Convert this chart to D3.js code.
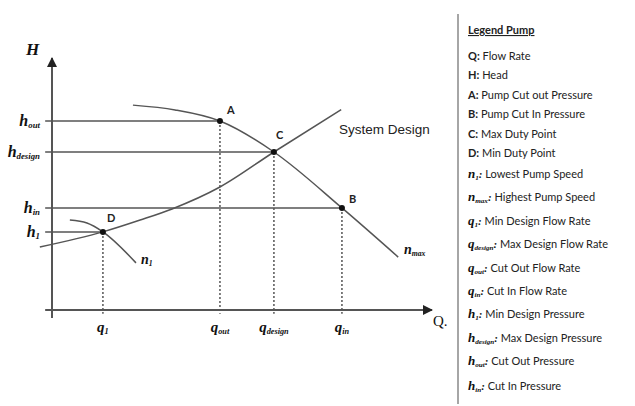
<!DOCTYPE html>
<html>
<head>
<meta charset="utf-8">
<script src="https://cdn.jsdelivr.net/npm/d3@7"></script>
<style>
  body { margin: 0; background: #fff; }
  svg { display: block; }
</style>
</head>
<body>
<svg width="635" height="406"></svg>
<script>
// Operating points on the curves (flow Q, head H).
var pointNames = ["A", "B", "C", "D"];
var pointQ = [44.2, 76.3, 58.4, 13.4];
var pointH = [75.0, 40.5, 62.7, 31.0];

// Pump curve at highest speed.
var nmaxQ = [21.3, 32.4, 44.2, 58.4, 76.3, 91.1];
var nmaxH = [81.3, 79.4, 75.0, 62.7, 40.5, 21.0];

// Pump curve at lowest speed.
var n1Q = [4.7, 9.2, 13.4, 22.1];
var n1H = [35.7, 34.5, 31.0, 18.7];

// System design curve.
var systemQ = [-3.2, 13.4, 23.2, 31.6, 44.2, 58.4, 76.1];
var systemH = [25.0, 31.0, 35.7, 40.1, 48.8, 62.7, 79.5];

// Tick labels.
var hTicks = [75.0, 62.7, 40.5, 31.0];
var hSubs = ["out", "design", "in", "1"];
var qTicks = [13.4, 44.2, 58.4, 76.3];
var qSubs = ["1", "out", "design", "in"];

// Legend rows: key symbol, subscript, description.
var legendKeys = ["Q", "H", "A", "B", "C", "D", "n", "n", "q", "q", "q", "q", "h", "h", "h", "h"];
var legendSubs = ["", "", "", "", "", "", "1", "max", "1", "design", "out", "in", "1", "design", "out", "in"];
var legendText = ["Flow Rate", "Head", "Pump Cut out Pressure", "Pump Cut In Pressure", "Max Duty Point",
	"Min Duty Point", "Lowest Pump Speed", "Highest Pump Speed", "Min Design Flow Rate",
	"Max Design Flow Rate", "Cut Out Flow Rate", "Cut In Flow Rate", "Min Design Pressure",
	"Max Design Pressure", "Cut Out Pressure", "Cut In Pressure"];

var svg = d3.select("svg");
var lineColor = "#555";
var scriptFont = "Liberation Serif";

var x = d3.scaleLinear().domain([0, 100]).range([52, 432]);
var y = d3.scaleLinear().domain([0, 100]).range([310, 58]);

// Arrow marker for the axes.
svg.append("defs").append("marker")
	.attr("id", "arrow")
	.attr("viewBox", "0 0 10 10")
	.attr("refX", 9).attr("refY", 5)
	.attr("markerWidth", 5).attr("markerHeight", 5)
	.attr("markerUnits", "strokeWidth")
	.attr("orient", "auto")
	.append("path")
	.attr("d", "M0,0L10,5L0,10Z")
	.attr("fill", "#222");

// Axes.
svg.append("line")
	.attr("x1", x(0)).attr("y1", y(-3.2))
	.attr("x2", x(0)).attr("y2", y(100))
	.attr("stroke", lineColor).attr("stroke-width", 2)
	.attr("marker-end", "url(#arrow)");
svg.append("line")
	.attr("x1", x(-1.8)).attr("y1", y(0))
	.attr("x2", x(100)).attr("y2", y(0))
	.attr("stroke", lineColor).attr("stroke-width", 2)
	.attr("marker-end", "url(#arrow)");

// Guide lines from the points to the axes.
var guides = svg.append("g");
pointNames.forEach(function(name, i) {
	guides.append("line")
		.attr("x1", x(-1.8)).attr("y1", y(pointH[i]))
		.attr("x2", x(pointQ[i])).attr("y2", y(pointH[i]))
		.attr("stroke", lineColor).attr("stroke-width", 1.5);
	guides.append("line")
		.attr("x1", x(pointQ[i])).attr("y1", y(pointH[i]))
		.attr("x2", x(pointQ[i])).attr("y2", y(-1.5))
		.attr("stroke", lineColor).attr("stroke-width", 1.5)
		.attr("stroke-dasharray", "2,2");
});

// Curves.
var curve = d3.line()
	.x(function(d) { return x(d[0]); })
	.y(function(d) { return y(d[1]); })
	.curve(d3.curveMonotoneX);

[[nmaxQ, nmaxH], [n1Q, n1H], [systemQ, systemH]].forEach(function(c) {
	svg.append("path")
		.datum(d3.zip(c[0], c[1]))
		.attr("d", curve)
		.attr("fill", "none")
		.attr("stroke", lineColor)
		.attr("stroke-width", 1.5);
});

// Points and their letters.
var labelDx = [7, 7, 2, 4];
var labelDy = [-7, -5, -13, -10];
svg.append("g").selectAll("circle")
	.data(pointNames)
	.enter()
	.append("circle")
	.attr("cx", function(d, i) { return x(pointQ[i]); })
	.attr("cy", function(d, i) { return y(pointH[i]); })
	.attr("r", 3)
	.attr("fill", "#111");
svg.append("g").selectAll("text")
	.data(pointNames)
	.enter()
	.append("text")
	.attr("x", function(d, i) { return x(pointQ[i]) + labelDx[i]; })
	.attr("y", function(d, i) { return y(pointH[i]) + labelDy[i]; })
	.attr("font-family", "Lato")
	.attr("font-weight", "bold")
	.attr("font-size", 11)
	.attr("fill", "#222")
	.text(function(d) { return d; });

// Script label with subscript.
function scriptLabel(g, px, py, base, sub, anchor, size) {
	var t = g.append("text")
		.attr("x", px).attr("y", py)
		.attr("text-anchor", anchor)
		.attr("font-family", scriptFont)
		.attr("font-style", "italic")
		.attr("font-weight", "bold")
		.attr("font-size", size)
		.attr("fill", "#111");
	t.append("tspan").text(base);
	if (sub) {
		t.append("tspan")
			.attr("font-size", size * 0.55)
			.attr("dy", size * 0.15)
			.text(sub);
	}
	return t;
}

var labels = svg.append("g");
hTicks.forEach(function(h, i) {
	scriptLabel(labels, 40, y(h) + 5, "h", hSubs[i], "end", 16);
});
qTicks.forEach(function(q, i) {
	scriptLabel(labels, x(q), 332, "q", qSubs[i], "middle", 15);
});
scriptLabel(labels, 404, 254, "n", "max", "start", 14);
scriptLabel(labels, 141, 264, "n", "1", "start", 14);

svg.append("text")
	.attr("x", 26).attr("y", 55)
	.attr("font-family", scriptFont)
	.attr("font-style", "italic")
	.attr("font-weight", "bold")
	.attr("font-size", 17)
	.attr("fill", "#111")
	.text("H");
svg.append("text")
	.attr("x", 433).attr("y", 326)
	.attr("font-family", scriptFont)
	.attr("font-size", 15)
	.attr("fill", "#111")
	.text("Q.");

svg.append("text")
	.attr("x", 339).attr("y", 134)
	.attr("font-family", "Liberation Sans")
	.attr("font-size", 13.5)
	.attr("fill", "#222")
	.text("System Design");

// Legend.
var legend = svg.append("g");
legend.append("line")
	.attr("x1", 458).attr("y1", 14)
	.attr("x2", 458).attr("y2", 404)
	.attr("stroke", "#888").attr("stroke-width", 1.5);

legend.append("text")
	.attr("x", 468).attr("y", 34)
	.attr("font-family", "Lato")
	.attr("font-weight", "bold")
	.attr("font-size", 11)
	.attr("text-decoration", "underline")
	.attr("fill", "#222")
	.text("Legend Pump");

var rowY = [60, 79, 99, 118, 138, 157, 178, 201, 225, 248, 272, 295, 318, 342, 365, 390];
legendKeys.forEach(function(k, i) {
	var t;
	if (legendSubs[i] === "") {
		t = legend.append("text")
			.attr("x", 468).attr("y", rowY[i])
			.attr("font-family", "Lato")
			.attr("font-size", 11)
			.attr("fill", "#222");
		t.append("tspan").attr("font-weight", "bold").text(k + ":");
	} else {
		t = scriptLabel(legend, 468, rowY[i], k, legendSubs[i], "start", 13);
		t.append("tspan").attr("dy", -13 * 0.15).attr("font-size", 11).text(":");
	}
	t.append("tspan")
		.attr("font-family", "Lato")
		.attr("font-style", "normal")
		.attr("font-weight", "normal")
		.attr("font-size", 11)
		.attr("fill", "#222")
		.text(" " + legendText[i]);
});
</script>
</body>
</html>
